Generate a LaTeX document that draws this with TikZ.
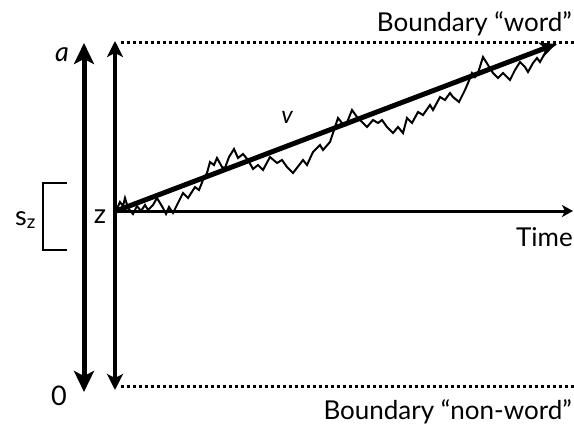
\documentclass[tikz,border=0pt]{standalone}
\usepackage{fontspec}
\setmainfont{Lato}
\usetikzlibrary{arrows.meta}
\begin{document}
\begin{tikzpicture}[x=1pt,y=-1pt,
  bigarrow/.style={line width=5pt,{Stealth[length=21pt,width=20pt,inset=5pt]}-{Stealth[length=21pt,width=20pt,inset=5pt]}},
  midarrow/.style={line width=3.4pt,{Stealth[length=16pt,width=16pt,inset=4pt]}-{Stealth[length=16pt,width=16pt,inset=4pt]}},
  timearrow/.style={line width=3pt,-{Stealth[length=11pt,width=12pt,inset=3pt]}},
  drift/.style={line width=5pt,-{Stealth[length=16pt,width=15pt,inset=4pt]}},
  bound/.style={line width=3pt,dash pattern=on 2.6pt off 3.4pt},
  walk/.style={line width=2pt,line join=miter},
  brk/.style={line width=2pt},
  lbl/.style={inner sep=0pt,font=\fontsize{26}{30}\selectfont},
  sym/.style={inner sep=0pt,font=\fontsize{27}{31}\selectfont}]
\useasboundingbox (0,0) rectangle (574,424);
% coordinates
\coordinate (Lt) at (84,43);
\coordinate (Lb) at (84,392);
\coordinate (Rt) at (115,41);
\coordinate (Rb) at (115,390);
\coordinate (z) at (116,211);
\coordinate (tend) at (573,211);
\coordinate (hit) at (556,44);
\coordinate (btopL) at (121,42);
\coordinate (btopR) at (574,42);
\coordinate (bbotL) at (121,386);
\coordinate (bbotR) at (574,386);
% boundaries
\draw[bound] (btopL) -- (btopR);
\draw[bound] (bbotL) -- (bbotR);
% vertical arrows
\draw[bigarrow] (Lb) -- (Lt);
\draw[midarrow] (Rb) -- (Rt);
% time axis
\draw[timearrow] (z) -- (tend);
% random walk
\draw[walk] (z) -- (120,202) -- (123,206) -- (125,198) -- (128,208) -- (133,214) -- (137,206) -- (141,211) -- (145,205) -- (148,210) -- (153,205) -- (157,198) -- (163,208) -- (166,214) -- (169,207) -- (173,213) -- (178,203) -- (183,193) -- (188,198) -- (195,187) -- (199,190) -- (203,180) -- (207,173) -- (210,162) -- (214,165) -- (217,158) -- (222,167) -- (225,168) -- (229,157) -- (234,149) -- (238,158) -- (243,154) -- (248,160) -- (253,169) -- (258,165) -- (263,170) -- (270,157) -- (277,163) -- (282,160) -- (287,167) -- (293,173) -- (303,160) -- (307,165) -- (313,152) -- (320,145) -- (323,150) -- (330,142) -- (335,127) -- (338,118) -- (342,123) -- (346,125) -- (352,110) -- (357,117) -- (362,122) -- (367,127) -- (373,120) -- (378,123) -- (382,120) -- (387,127) -- (393,133) -- (398,127) -- (403,133) -- (407,118) -- (412,123) -- (418,112) -- (423,115) -- (430,105) -- (433,110) -- (440,97) -- (445,100) -- (450,93) -- (453,97) -- (459,102) -- (465,90) -- (468,83) -- (472,73) -- (475,77) -- (478,73) -- (483,57) -- (488,65) -- (493,73) -- (498,78) -- (503,73) -- (510,80) -- (515,70) -- (520,62) -- (525,67) -- (528,72) -- (533,63) -- (537,58) -- (540,62) -- (545,53) -- (550,48) -- (hit);
% drift
\draw[drift] (z) -- (hit);
% bracket
\coordinate (bk1) at (67,183);
\coordinate (bk2) at (43,183);
\coordinate (bk3) at (43,250);
\coordinate (bk4) at (67,250);
\draw[brk] (bk1) -- (bk2) -- (bk3) -- (bk4);
% labels
\node[sym,anchor=base] (la) at (62,61) {\itshape a};
\node[sym,anchor=base] (l0) at (59,405) {0};
\node[sym,anchor=base] (lz) at (100,223) {z};
\node[sym,anchor=base west] (lsz) at (15,225) {s\textsubscript{z}};
\node[sym,anchor=base,font=\fontsize{24}{28}\selectfont] (lv) at (287,123) {\itshape v};
\node[lbl,anchor=base east] (lword) at (572,31) {Boundary “word”};
\node[lbl,anchor=base east] (lnon) at (572,419) {Boundary “non-word”};
\node[lbl,anchor=base east] (ltime) at (573,246) {Time};
\end{tikzpicture}
\end{document}
